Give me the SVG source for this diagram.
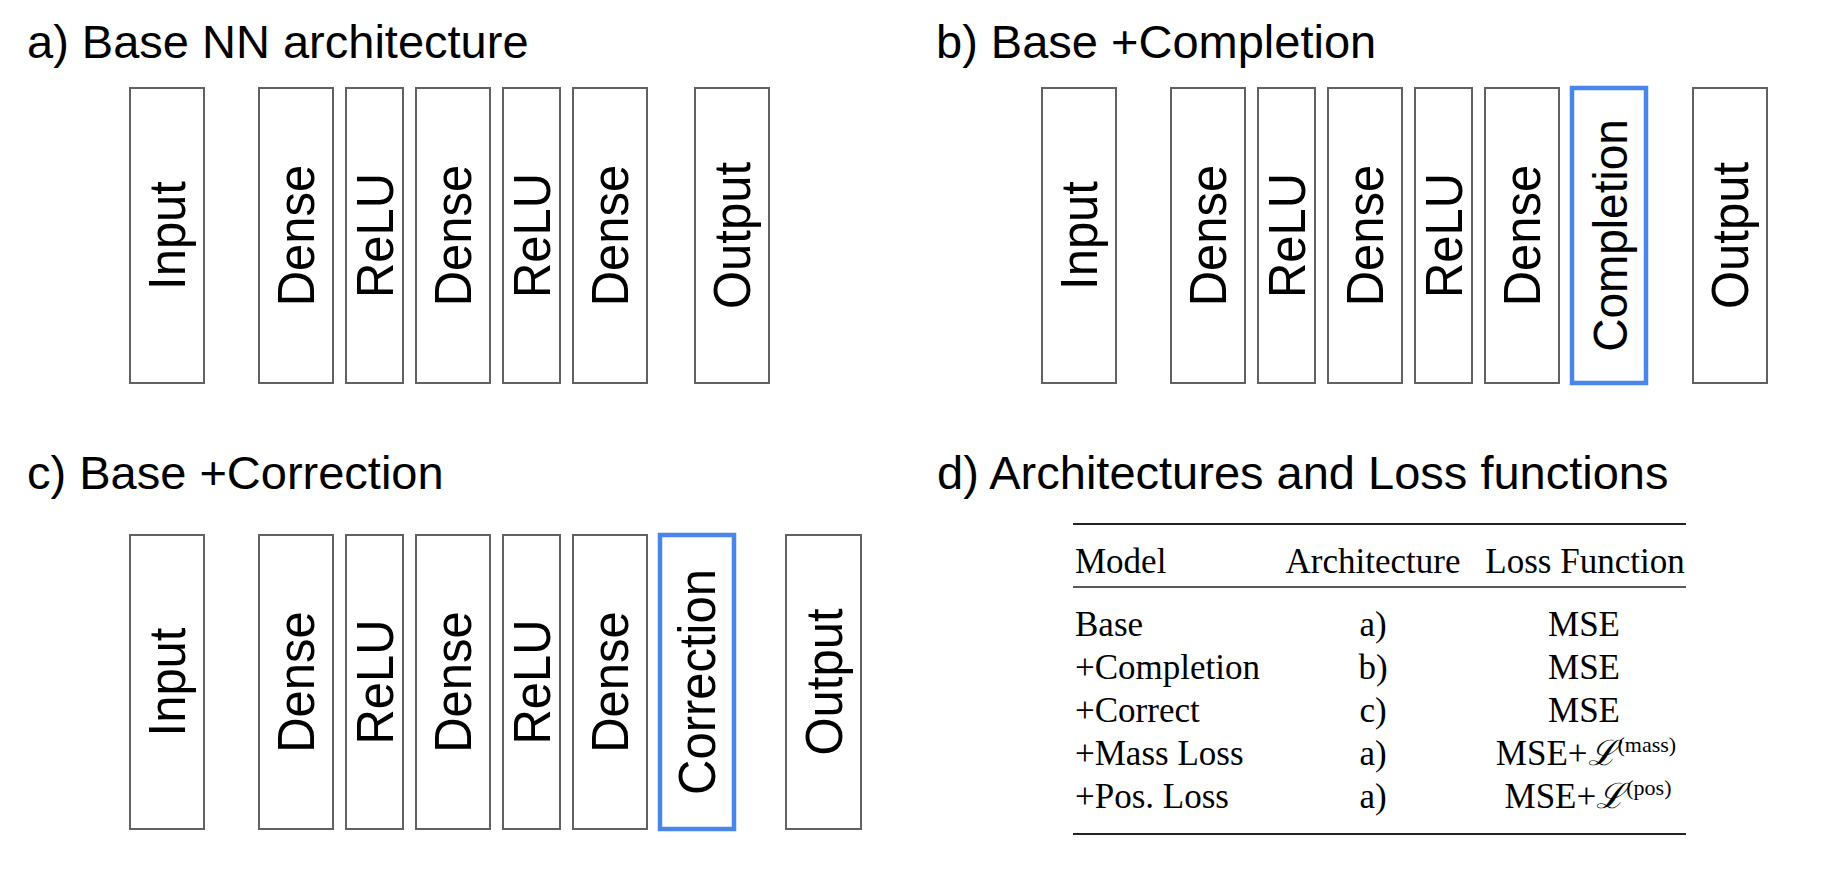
<svg xmlns="http://www.w3.org/2000/svg" width="1835" height="873" viewBox="0 0 1835 873">
<style>
.title{font-family:"Liberation Sans",Arial,sans-serif;font-size:47px;fill:#000}
.box{fill:#fff;stroke:#616161;stroke-width:2}
.hl{fill:#fff;stroke:#4a86e8;stroke-width:4.5}
.lbl{font-family:"Liberation Sans",Arial,sans-serif;font-size:49px;fill:#000;text-anchor:middle}
.tb{font-family:"Liberation Serif","Times New Roman",serif;font-size:35px;fill:#000}
.mid{text-anchor:middle}
.rule{stroke:#222;stroke-width:2}
</style>
<rect width="1835" height="873" fill="#fff"/>

<g id="panel-a">
<text class="title" x="27" y="58">a) Base NN architecture</text>
<g id="a-input"><rect class="box" x="130" y="88" width="74" height="295"/><text class="lbl" transform="translate(185.4,235.5) rotate(-90) scale(1,1.05)">Input</text></g>
<g id="a-dense1"><rect class="box" x="259" y="88" width="74" height="295"/><text class="lbl" transform="translate(314.4,235.5) rotate(-90) scale(1,1.05)">Dense</text></g>
<g id="a-relu1"><rect class="box" x="346" y="88" width="57" height="295"/><text class="lbl" transform="translate(392.9,235.5) rotate(-90) scale(1,1.05)">ReLU</text></g>
<g id="a-dense2"><rect class="box" x="416" y="88" width="74" height="295"/><text class="lbl" transform="translate(471.4,235.5) rotate(-90) scale(1,1.05)">Dense</text></g>
<g id="a-relu2"><rect class="box" x="503" y="88" width="57" height="295"/><text class="lbl" transform="translate(549.9,235.5) rotate(-90) scale(1,1.05)">ReLU</text></g>
<g id="a-dense3"><rect class="box" x="573" y="88" width="74" height="295"/><text class="lbl" transform="translate(628.4,235.5) rotate(-90) scale(1,1.05)">Dense</text></g>
<g id="a-output"><rect class="box" x="695" y="88" width="74" height="295"/><text class="lbl" transform="translate(750.4,235.5) rotate(-90) scale(1,1.05)">Output</text></g>
</g>

<g id="panel-b">
<text class="title" x="936" y="58">b) Base +Completion</text>
<g id="b-input"><rect class="box" x="1042" y="88" width="74" height="295"/><text class="lbl" transform="translate(1097.4,235.5) rotate(-90) scale(1,1.05)">Input</text></g>
<g id="b-dense1"><rect class="box" x="1171" y="88" width="74" height="295"/><text class="lbl" transform="translate(1226.4,235.5) rotate(-90) scale(1,1.05)">Dense</text></g>
<g id="b-relu1"><rect class="box" x="1258" y="88" width="57" height="295"/><text class="lbl" transform="translate(1304.9,235.5) rotate(-90) scale(1,1.05)">ReLU</text></g>
<g id="b-dense2"><rect class="box" x="1328" y="88" width="74" height="295"/><text class="lbl" transform="translate(1383.4,235.5) rotate(-90) scale(1,1.05)">Dense</text></g>
<g id="b-relu2"><rect class="box" x="1415" y="88" width="57" height="295"/><text class="lbl" transform="translate(1461.9,235.5) rotate(-90) scale(1,1.05)">ReLU</text></g>
<g id="b-dense3"><rect class="box" x="1485" y="88" width="74" height="295"/><text class="lbl" transform="translate(1540.4,235.5) rotate(-90) scale(1,1.05)">Dense</text></g>
<g id="b-completion"><rect class="hl" x="1572" y="88" width="74" height="295"/><text class="lbl" style="font-size:46px" transform="translate(1626.5,235.5) rotate(-90) scale(1,1.05)">Completion</text></g>
<g id="b-output"><rect class="box" x="1693" y="88" width="74" height="295"/><text class="lbl" transform="translate(1748.4,235.5) rotate(-90) scale(1,1.05)">Output</text></g>
</g>

<g id="panel-c">
<text class="title" x="27" y="489">c) Base +Correction</text>
<g id="c-input"><rect class="box" x="130" y="535" width="74" height="294"/><text class="lbl" transform="translate(185.4,682) rotate(-90) scale(1,1.05)">Input</text></g>
<g id="c-dense1"><rect class="box" x="259" y="535" width="74" height="294"/><text class="lbl" transform="translate(314.4,682) rotate(-90) scale(1,1.05)">Dense</text></g>
<g id="c-relu1"><rect class="box" x="346" y="535" width="57" height="294"/><text class="lbl" transform="translate(392.9,682) rotate(-90) scale(1,1.05)">ReLU</text></g>
<g id="c-dense2"><rect class="box" x="416" y="535" width="74" height="294"/><text class="lbl" transform="translate(471.4,682) rotate(-90) scale(1,1.05)">Dense</text></g>
<g id="c-relu2"><rect class="box" x="503" y="535" width="57" height="294"/><text class="lbl" transform="translate(549.9,682) rotate(-90) scale(1,1.05)">ReLU</text></g>
<g id="c-dense3"><rect class="box" x="573" y="535" width="74" height="294"/><text class="lbl" transform="translate(628.4,682) rotate(-90) scale(1,1.05)">Dense</text></g>
<g id="c-correction"><rect class="hl" x="660" y="535" width="74" height="294"/><text class="lbl" transform="translate(715.4,682) rotate(-90) scale(1,1.05)">Correction</text></g>
<g id="c-output"><rect class="box" x="786" y="535" width="75" height="294"/><text class="lbl" transform="translate(841.9,682) rotate(-90) scale(1,1.05)">Output</text></g>
</g>

<g id="panel-d">
<text class="title" x="937" y="489">d) Architectures and Loss functions</text>
<g id="table">
<line class="rule" x1="1073" y1="524" x2="1686" y2="524"/>
<line class="rule" x1="1073" y1="587" x2="1686" y2="587" style="stroke-width:1.5"/>
<line class="rule" x1="1073" y1="834" x2="1686" y2="834"/>
<text class="tb" x="1075" y="573">Model</text>
<text class="tb mid" x="1373" y="573">Architecture</text>
<text class="tb mid" x="1585" y="573">Loss Function</text>

<text class="tb" x="1075" y="636">Base</text>
<text class="tb mid" x="1373" y="636">a)</text>
<text class="tb mid" x="1584" y="636">MSE</text>

<text class="tb" x="1075" y="679">+Completion</text>
<text class="tb mid" x="1373" y="679">b)</text>
<text class="tb mid" x="1584" y="679">MSE</text>

<text class="tb" x="1075" y="722">+Correct</text>
<text class="tb mid" x="1373" y="722">c)</text>
<text class="tb mid" x="1584" y="722">MSE</text>

<text class="tb" x="1075" y="765">+Mass Loss</text>
<text class="tb mid" x="1373" y="765">a)</text>
<text class="tb mid" x="1586" y="765">MSE+<tspan font-style="italic">ℒ</tspan><tspan dx="1" dy="-13" font-size="22">(mass)</tspan></text>

<text class="tb" x="1075" y="808">+Pos. Loss</text>
<text class="tb mid" x="1373" y="808">a)</text>
<text class="tb mid" x="1588" y="808">MSE+<tspan font-style="italic">ℒ</tspan><tspan dx="1" dy="-13" font-size="22">(pos)</tspan></text>
</g>
</g>
</svg>
